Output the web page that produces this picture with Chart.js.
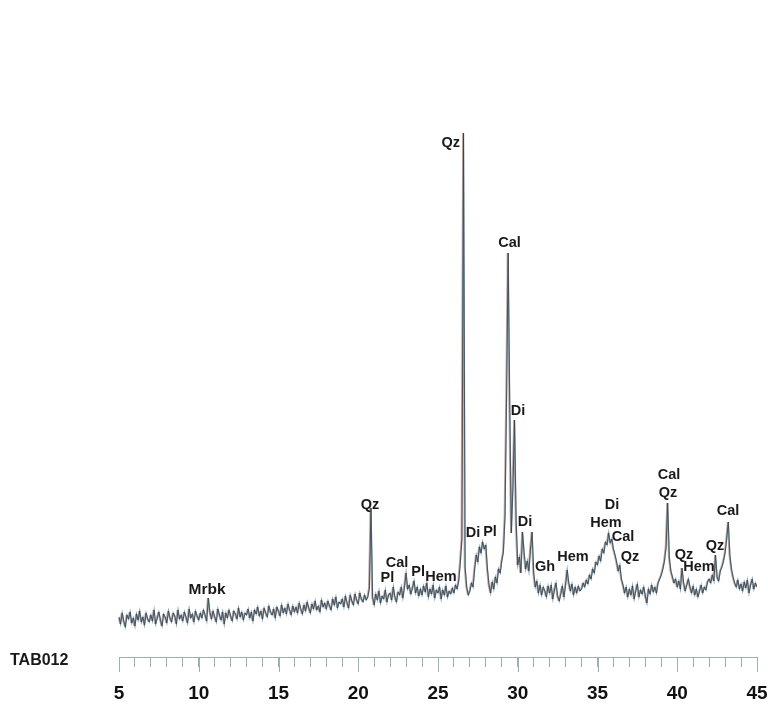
<!DOCTYPE html>
<html>
<head>
<meta charset="utf-8">
<script src="https://cdn.jsdelivr.net/npm/chart.js@4.4.1/dist/chart.umd.min.js"></script>
<style>
  html, body { margin: 0; padding: 0; background: #fff; }
  #wrap { width: 768px; height: 706px; }
</style>
</head>
<body>
<div id="wrap"><canvas id="xrd"></canvas></div>
<script>
// scan: 2-theta from 5 to 45 deg, 0.1 deg step
const scanStart = 5;
const scanStep = 0.1;
const sampleName = 'TAB012';

// intensity (arbitrary units), one row per degree
const counts = [
  40, 33, 44, 36, 30, 42, 38, 45, 34, 39,
  31, 43, 37, 46, 35, 40, 32, 44, 38, 35,
  42, 36, 47, 33, 39, 45, 37, 31, 43, 40,
  34, 46, 39, 35, 44, 41, 33, 47, 38, 42,
  36, 45, 40, 34, 48, 39, 43, 35, 46, 41,
  37, 44, 39, 47, 42, 36, 59, 45, 38, 46,
  40, 35, 48, 42, 37, 45, 33, 44, 39, 47,
  41, 36, 46, 43, 38, 49, 40, 45, 37, 44,
  42, 48, 39, 45, 36, 47, 43, 50, 41, 46,
  38, 49, 44, 40, 51, 45, 42, 48, 39, 50,
  46, 41, 52, 44, 49, 43, 53, 47, 42, 51,
  45, 50, 44, 54, 48, 43, 52, 46, 55, 49,
  44, 53, 48, 56, 47, 51, 45, 57, 50, 54,
  48, 56, 51, 47, 58, 52, 60, 49, 55, 53,
  58, 50, 61, 54, 49, 62, 56, 52, 63, 57,
  53, 64, 58, 55, 62, 57, 60, 69, 149, 60,
  52, 63, 57, 66, 54, 61, 58, 67, 55, 62,
  64, 57, 70, 60, 55, 65, 62, 70, 59, 70,
  84, 68, 72, 63, 69, 76, 64, 70, 61, 68,
  62, 71, 65, 74, 60, 68, 63, 72, 59, 67,
  64, 70, 58, 67, 62, 71, 60, 66, 63, 69,
  64, 72, 68, 76, 95, 118, 524, 90, 70, 62,
  66, 74, 70, 88, 102, 95, 110, 104, 115, 108,
  112, 88, 72, 64, 75, 68, 80, 74, 88, 84,
  96, 105, 140, 260, 404, 250, 124, 170, 237, 135,
  92, 100, 84, 125, 104, 88, 96, 86, 108, 125,
  84, 70, 76, 64, 72, 62, 70, 66, 60, 71,
  64, 72, 58, 67, 74, 61, 56, 63, 71, 60,
  72, 87, 74, 66, 73, 62, 70, 64, 71, 66,
  68, 74, 70, 77, 73, 82, 78, 88, 84, 95,
  92, 101, 96, 108, 104, 115, 112, 124, 114, 118,
  108, 102, 95, 86, 92, 78, 72, 64, 70, 60,
  68, 62, 71, 58, 66, 73, 60, 67, 63, 70,
  61, 54, 68, 63, 72, 65, 70, 64, 74, 78,
  82, 88, 96, 110, 154, 100, 86, 80, 74, 78,
  70, 76, 68, 89, 74, 66, 72, 78, 70, 64,
  71, 62, 68, 60, 66, 72, 64, 70, 67, 75,
  78, 74, 82, 76, 102, 80, 76, 86, 90, 96,
  104, 118, 135, 102, 88, 80, 74, 70, 77, 68,
  73, 66, 75, 69, 77, 64, 72, 78, 68, 74,
  70
];

// phase labels: name, 2-theta, intensity level where the label sits
const peakNames  = ['Mrbk', 'Qz', 'Pl', 'Cal', 'Pl', 'Hem', 'Qz', 'Di', 'Pl', 'Cal', 'Di', 'Di',
                    'Gh', 'Hem', 'Di', 'Hem', 'Cal', 'Qz', 'Cal', 'Qz', 'Qz', 'Hem', 'Qz', 'Cal'];
const peakAngles = [10.52, 20.74, 21.83, 22.43, 23.75, 25.19, 25.8, 27.19, 28.26, 29.48, 30.02, 30.45,
                    31.71, 33.46, 35.91, 35.53, 36.6, 37.04, 39.48, 39.42, 40.42, 41.36, 42.37, 43.18];
const peakLevels = [67, 152, 79, 94, 85, 80, 514, 124, 125, 414, 246, 135,
                    90, 100, 152, 134, 120, 100, 182, 164, 102, 90, 111, 146];

const angles = counts.map((c, i) => +(scanStart + i * scanStep).toFixed(1));
const points = counts.map((c, i) => ({ x: angles[i], y: c }));

const axisColor = '#9eafba';

// the scanned trace has a reddish ghost just left of the blue one
const ghostShift = {
  id: 'ghostShift',
  beforeDatasetDraw(chart, args) {
    if (args.index === 0) {
      chart.ctx.save();
      chart.ctx.translate(-0.9, 0);
    }
  },
  afterDatasetDraw(chart, args) {
    if (args.index === 0) chart.ctx.restore();
  }
};

const labelPlugin = {
  id: 'xrdLabels',
  afterDraw(chart) {
    const ctx = chart.ctx;
    const xs = chart.scales.x;
    const ys = chart.scales.y;
    const bottom = chart.chartArea.bottom;
    ctx.save();
    // longer ticks every 5 degrees
    ctx.strokeStyle = axisColor;
    ctx.lineWidth = 1;
    for (let v = 5; v <= 45; v += 5) {
      const px = Math.round(xs.getPixelForValue(v)) + 0.5;
      ctx.beginPath();
      ctx.moveTo(px, bottom);
      ctx.lineTo(px, bottom + 15);
      ctx.stroke();
    }
    ctx.fillStyle = '#1a1a1a';
    ctx.textAlign = 'center';
    ctx.textBaseline = 'middle';
    peakNames.forEach((name, i) => {
      ctx.font = name === 'Mrbk' ? "bold 15.5px 'Liberation Sans', Arial" : "bold 14.5px 'Liberation Sans', Arial";
      ctx.fillText(name, xs.getPixelForValue(peakAngles[i]), ys.getPixelForValue(peakLevels[i]));
    });
    ctx.textAlign = 'left';
    ctx.font = "bold 16px 'Liberation Sans', Arial";
    ctx.fillText(sampleName, 10, bottom + 4);
    ctx.restore();
  }
};

new Chart(document.getElementById('xrd'), {
  type: 'line',
  data: {
    datasets: [{
      data: points,
      order: 3,
      borderColor: '#e0a08a',
      borderWidth: 1,
      pointRadius: 0,
      tension: 0
    }, {
      data: points,
      order: 2,
      borderColor: '#6a9fbf',
      borderWidth: 1.3,
      pointRadius: 0,
      tension: 0
    }, {
      data: points,
      order: 1,
      borderColor: '#383838',
      borderWidth: 0.7,
      pointRadius: 0,
      tension: 0
    }]
  },
  options: {
    responsive: true,
    maintainAspectRatio: false,
    animation: false,
    layout: { padding: { left: 119, right: 11, top: 57, bottom: 2 } },
    plugins: { legend: { display: false }, tooltip: { enabled: false } },
    scales: {
      x: {
        type: 'linear',
        min: 5,
        max: 45,
        afterFit: s => { s.height = 47; s.paddingLeft = 0; s.paddingRight = 0; },
        border: { display: true, color: axisColor, width: 1 },
        grid: { drawOnChartArea: false, drawTicks: true, tickLength: 10, tickColor: axisColor },
        ticks: {
          stepSize: 1,
          autoSkip: false,
          maxRotation: 0,
          padding: 15,
          color: '#111',
          font: { family: "'Liberation Sans', Arial", size: 19, weight: 'bold' },
          callback: v => (v % 5 === 0 ? v : '')
        }
      },
      y: {
        display: false,
        min: 0,
        max: 600
      }
    }
  },
  plugins: [ghostShift, labelPlugin]
});
</script>
</body>
</html>
